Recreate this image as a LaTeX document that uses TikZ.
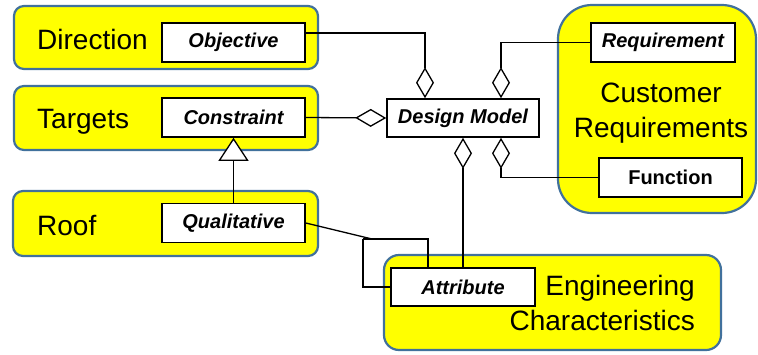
\documentclass[tikz,border=0pt]{standalone}
\usepackage{fontspec}
\setmainfont{Liberation Sans}
\usetikzlibrary{arrows.meta}
\definecolor{groupfill}{HTML}{FFFF00}
\definecolor{groupedge}{HTML}{41719C}

\begin{document}
\begin{tikzpicture}[x=1pt,y=-1pt,
  group/.style={draw=groupedge, fill=groupfill, line width=2.2pt},
  classbox/.style={draw=black, fill=white, line width=1.6pt, inner sep=0pt,
    minimum width=143pt, minimum height=39pt,
    font=\fontsize{20}{24}\selectfont\bfseries\itshape},
  biglabel/.style={font=\fontsize{28}{32}\selectfont, inner sep=0pt},
  link/.style={line width=1.3pt},
  agg/.style={-{Diamond[open,fill=white,length=31pt,width=18pt]}},
  isa/.style={-{Triangle[open,fill=white,length=23pt,width=30pt]}}
]
\useasboundingbox (0,0) rectangle (758,354);

% grouping panels
\node[group, rounded corners=10pt, minimum width=304pt, minimum height=63pt] (direction) at (166,37.5) {};
\node[group, rounded corners=10pt, minimum width=304pt, minimum height=64pt] (targets) at (166,118) {};
\node[group, rounded corners=10pt, minimum width=305pt, minimum height=65pt] (roof) at (165.5,223.5) {};
\node[group, rounded corners=34pt, minimum width=198pt, minimum height=208pt] (customer) at (657,109) {};
\node[group, rounded corners=15pt, minimum width=337pt, minimum height=95pt] (engineering) at (552.5,302.5) {};

% panel titles
\node[biglabel, anchor=base west] (directionlbl) at (37,49) {Direction};
\node[biglabel, anchor=base west] (targetslbl) at (37,128) {Targets};
\node[biglabel, anchor=base west] (rooflbl) at (37,235) {Roof};
\node[biglabel, anchor=base] (customerlbl) at (661,102) {Customer};
\node[biglabel, anchor=base] (requirementslbl) at (661,137) {Requirements};
\node[biglabel, anchor=base east] (engineeringlbl) at (695,295) {Engineering};
\node[biglabel, anchor=base east] (characteristicslbl) at (695,330) {Characteristics};

% classes
\node[classbox] (objective) at (233.5,42.5) {Objective};
\node[classbox] (constraint) at (233.5,117.5) {Constraint};
\node[classbox] (qual) at (233.5,223) {Qualitative};
\node[classbox, minimum width=152pt, minimum height=38pt] (dm) at (463,118) {Design Model};
\node[classbox, minimum width=144pt] (req) at (663,42.5) {Requirement};
\node[classbox, minimum width=143pt, font=\fontsize{20}{24}\selectfont\bfseries] (func) at (670.5,177.5) {Function};
\node[classbox, minimum width=144pt, minimum height=38pt] (attr) at (463,287) {Attribute};

% aggregations into the design model
\draw[link, agg] ([yshift=9.5pt]objective.east) -| ([xshift=-38pt]dm.north);
\draw[link, agg] (req.west) -| ([xshift=38pt]dm.north);
\draw[link, agg] (constraint.east) -- (dm.west);
\draw[link, agg] (func.west) -| ([xshift=38pt]dm.south);
\draw[link, agg] (attr.north) -- (dm.south);

% specialisation
\draw[link, isa] (qual.north) -- (constraint.south);

% qualitative to attribute
\coordinate (j) at (363,239);
\draw[link] (qual.east) -- (372,239);
\draw[link] (j) |- (attr.west);
\draw[link] (j) -| ([xshift=-35pt]attr.north);
\end{tikzpicture}
\end{document}
